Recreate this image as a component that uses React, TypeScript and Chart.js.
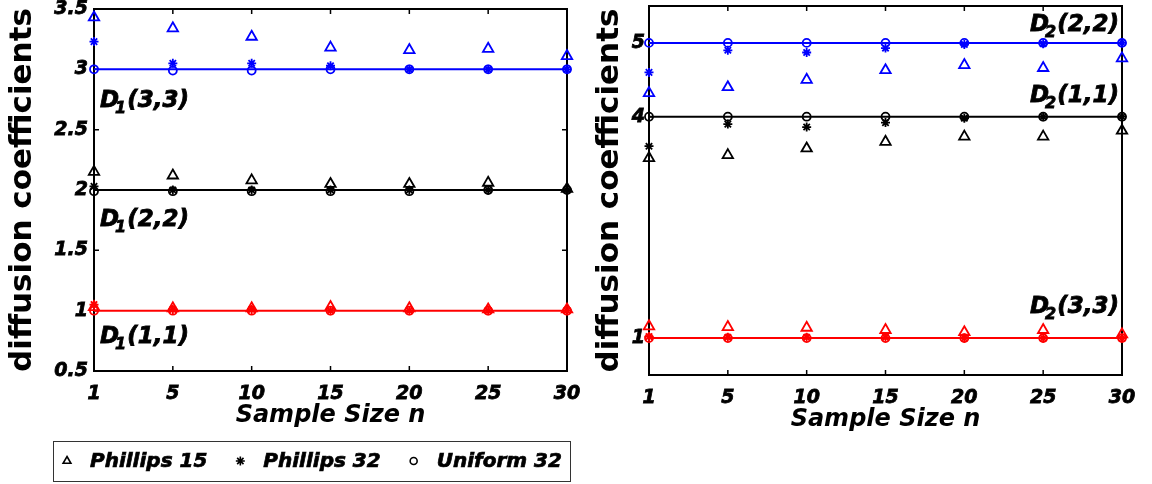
import React, { useEffect, useRef } from 'react';
import { Chart, registerables } from 'chart.js';

Chart.register(...registerables);

// ---------- data ----------
const sampleSizes = ['1', '5', '10', '15', '20', '25', '30'];
const methodNames = ['Phillips 15', 'Phillips 32', 'Uniform 32'];
const d1TickValues = [0.5, 1, 1.5, 2, 2.5, 3, 3.5];
const d2TickValues = [1, 4, 5];

// D1 (left panel)
const d1_33_true = [3, 3, 3, 3, 3, 3, 3];
const d1_33_phillips15 = [3.43, 3.34, 3.27, 3.18, 3.16, 3.17, 3.11];
const d1_33_phillips32 = [3.23, 3.05, 3.05, 3.03, 3.0, 3.0, 3.0];
const d1_33_uniform32 = [3.0, 2.99, 2.99, 3.0, 3.0, 3.0, 3.0];

const d1_22_true = [2, 2, 2, 2, 2, 2, 2];
const d1_22_phillips15 = [2.15, 2.12, 2.08, 2.05, 2.05, 2.06, 2.01];
const d1_22_phillips32 = [2.03, 2.0, 2.0, 2.0, 2.0, 2.0, 2.0];
const d1_22_uniform32 = [1.99, 1.99, 1.99, 1.99, 1.99, 2.0, 2.0];

const d1_11_true = [1, 1, 1, 1, 1, 1, 1];
const d1_11_phillips15 = [1.03, 1.02, 1.02, 1.03, 1.02, 1.01, 1.01];
const d1_11_phillips32 = [1.05, 1.01, 1.01, 1.0, 1.0, 1.0, 1.0];
const d1_11_uniform32 = [1.0, 1.0, 1.0, 1.0, 1.0, 1.0, 1.0];

// D2 (right panel)
const d2_22_true = [5, 5, 5, 5, 5, 5, 5];
const d2_22_phillips15 = [4.32, 4.4, 4.5, 4.63, 4.7, 4.66, 4.79];
const d2_22_phillips32 = [4.6, 4.9, 4.87, 4.93, 4.98, 4.99, 5.0];
const d2_22_uniform32 = [5.0, 5.0, 5.0, 5.0, 5.0, 5.0, 5.0];

const d2_11_true = [4, 4, 4, 4, 4, 4, 4];
const d2_11_phillips15 = [3.44, 3.48, 3.57, 3.66, 3.73, 3.73, 3.81];
const d2_11_phillips32 = [3.6, 3.9, 3.86, 3.92, 3.98, 4.0, 4.0];
const d2_11_uniform32 = [4.0, 4.0, 4.0, 4.0, 4.0, 4.0, 4.0];

const d2_33_true = [1, 1, 1, 1, 1, 1, 1];
const d2_33_phillips15 = [1.16, 1.15, 1.14, 1.11, 1.08, 1.11, 1.05];
const d2_33_phillips32 = [1.02, 1.01, 1.01, 1.01, 1.0, 1.0, 1.0];
const d2_33_uniform32 = [1.0, 1.0, 1.0, 1.0, 1.0, 1.0, 1.0];

// text labels inside the panels
const d1Labels = [
  { sub: '1', args: '(3,3)', xIndex: 0, value: 2.69 },
  { sub: '1', args: '(2,2)', xIndex: 0, value: 1.7 },
  { sub: '1', args: '(1,1)', xIndex: 0, value: 0.73 },
];
const d2Labels = [
  { sub: '2', args: '(2,2)', xIndex: 6, value: 5.16 },
  { sub: '2', args: '(1,1)', xIndex: 6, value: 4.2 },
  { sub: '2', args: '(3,3)', xIndex: 6, value: 1.34 },
];

// ---------- styling ----------
const FONT = '"DejaVu Sans", "Liberation Sans", Arial, sans-serif';
const BLUE = '#0000ff';
const BLACK = '#000000';
const RED = '#ff0000';
const CANVAS_TOP = -20;
const markerStyles = ['triangle', 'star', 'circle'];
const markerRadius = [6, 4.5, 4];

type Group = { color: string; truth: number[]; series: number[][] };

function buildDatasets(groups: Group[]) {
  const ds: any[] = [];
  groups.forEach((g) => {
    g.series.forEach((values, m) => {
      ds.push({
        label: methodNames[m],
        data: values,
        showLine: false,
        pointStyle: markerStyles[m],
        pointRadius: markerRadius[m],
        pointBorderWidth: 1.8,
        pointBorderColor: g.color,
        pointBackgroundColor: 'rgba(0,0,0,0)',
        borderColor: g.color,
        clip: false,
        order: 3 - m,
      });
    });
    ds.push({
      label: 'true',
      data: g.truth,
      showLine: true,
      borderColor: g.color,
      borderWidth: 2,
      pointRadius: 0,
      clip: false,
      order: 10,
    });
  });
  return ds;
}

const boxPlugin = {
  id: 'matlabBox',
  beforeDatasetsDraw(chart: any) {
    const { ctx, chartArea: a, scales } = chart;
    const x = scales.x;
    const y = scales.y;
    ctx.save();
    ctx.strokeStyle = '#000';
    ctx.lineWidth = 1.5;
    const tl = 5;
    ctx.beginPath();
    x.ticks.forEach((_t: any, i: number) => {
      const px = x.getPixelForTick(i);
      ctx.moveTo(px, a.bottom);
      ctx.lineTo(px, a.bottom - tl);
      ctx.moveTo(px, a.top);
      ctx.lineTo(px, a.top + tl);
    });
    y.ticks.forEach((t: any) => {
      const py = y.getPixelForValue(t.value);
      ctx.moveTo(a.left, py);
      ctx.lineTo(a.left + tl, py);
      ctx.moveTo(a.right, py);
      ctx.lineTo(a.right - tl, py);
    });
    ctx.stroke();
    ctx.lineWidth = 2;
    ctx.strokeRect(a.left, a.top, a.right - a.left, a.bottom - a.top);
    ctx.restore();
  },
};

function heavyText(ctx: CanvasRenderingContext2D, s: string, x: number, y: number) {
  ctx.fillText(s, x, y);
  ctx.strokeText(s, x, y);
}

const labelPlugin = {
  id: 'panelLabels',
  afterDatasetsDraw(chart: any, _args: any, opts: any) {
    const labels = opts.labels || [];
    const { ctx, scales } = chart;
    ctx.save();
    ctx.fillStyle = '#000';
    ctx.strokeStyle = '#000';
    ctx.lineWidth = 0.8;
    ctx.textBaseline = 'alphabetic';
    labels.forEach((l: any) => {
      const main = `italic bold 23px ${FONT}`;
      const subF = `italic bold 16px ${FONT}`;
      ctx.font = main;
      const wD = ctx.measureText('D').width;
      const wArgs = ctx.measureText(l.args).width;
      ctx.font = subF;
      const wSub = ctx.measureText(l.sub).width;
      const total = wD + wSub - 3 + wArgs;
      const ax = scales.x.getPixelForValue(l.xIndex);
      const ay = scales.y.getPixelForValue(l.value);
      const x0 = opts.align === 'right' ? ax - 3 - total : ax + 6;
      ctx.font = main;
      heavyText(ctx, 'D', x0, ay);
      ctx.font = subF;
      heavyText(ctx, l.sub, x0 + wD - 4, ay + 6);
      ctx.font = main;
      heavyText(ctx, l.args, x0 + wD + wSub - 3, ay);
    });
    ctx.restore();
  },
};

function drawMarker(ctx: CanvasRenderingContext2D, style: string, x: number, y: number, r: number) {
  ctx.beginPath();
  if (style === 'triangle') {
    let rad = 0;
    ctx.moveTo(x + Math.sin(rad) * r, y - Math.cos(rad) * r);
    rad += (2 * Math.PI) / 3;
    ctx.lineTo(x + Math.sin(rad) * r, y - Math.cos(rad) * r);
    rad += (2 * Math.PI) / 3;
    ctx.lineTo(x + Math.sin(rad) * r, y - Math.cos(rad) * r);
    ctx.closePath();
  } else if (style === 'star') {
    for (let k = 0; k < 4; k++) {
      const ang = (k * Math.PI) / 4;
      ctx.moveTo(x - Math.cos(ang) * r, y - Math.sin(ang) * r);
      ctx.lineTo(x + Math.cos(ang) * r, y + Math.sin(ang) * r);
    }
  } else {
    ctx.arc(x, y, r, 0, Math.PI * 2);
  }
  ctx.stroke();
}

const legendPlugin = {
  id: 'boxLegend',
  afterDraw(chart: any, _args: any, opts: any) {
    if (!opts.show) return;
    const { ctx } = chart;
    const top = 441 - CANVAS_TOP;
    const left = 53;
    const w = 517;
    const h = 40;
    ctx.save();
    ctx.strokeStyle = '#333';
    ctx.lineWidth = 1;
    ctx.strokeRect(left + 0.5, top + 0.5, w, h);
    ctx.font = `italic bold 20px ${FONT}`;
    ctx.textBaseline = 'middle';
    ctx.fillStyle = '#000';
    ctx.strokeStyle = '#000';
    const cy = top + h / 2;
    let x = 67;
    methodNames.forEach((name, m) => {
      const r = [4.5, 4.5, 3.5][m];
      ctx.lineWidth = 1.6;
      drawMarker(ctx, markerStyles[m], x, cy, r);
      const tx = x + 23;
      ctx.lineWidth = 0.7;
      heavyText(ctx, name, tx, cy + 1);
      x = tx + ctx.measureText(name).width + 33;
    });
    ctx.restore();
  },
};

function makeConfig(opts: {
  groups: Group[];
  min: number;
  max: number;
  tickValues: number[];
  yWidth: number;
  yTitlePad: number;
  yTickPad: number;
  padding: any;
  labels: any[];
  labelAlign: string;
  legend: boolean;
}) {
  return {
    type: 'line',
    data: { labels: sampleSizes, datasets: buildDatasets(opts.groups) },
    plugins: [boxPlugin, labelPlugin, legendPlugin],
    options: {
      animation: false,
      responsive: false,
      layout: { padding: opts.padding },
      plugins: {
        legend: { display: false },
        tooltip: { enabled: false },
        panelLabels: { labels: opts.labels, align: opts.labelAlign },
        boxLegend: { show: opts.legend },
      },
      scales: {
        x: {
          type: 'category',
          offset: false,
          grid: { display: false, drawTicks: false },
          border: { display: false },
          ticks: {
            color: '#000',
            padding: 12,
            maxRotation: 0,
            autoSkip: false,
            textStrokeColor: '#000',
            textStrokeWidth: 0.8,
            font: { family: FONT, size: 19, weight: 'bold', style: 'italic' },
          },
          title: {
            display: true,
            text: 'Sample Size n',
            color: '#000',
            padding: { top: 0, bottom: 5 },
            font: { family: FONT, size: 24, weight: 'bold', style: 'italic' },
          },
          afterFit: (s: any) => {
            s.height = 64;
          },
        },
        y: {
          type: 'linear',
          min: opts.min,
          max: opts.max,
          grid: { display: false, drawTicks: false },
          border: { display: false },
          afterBuildTicks: (s: any) => {
            s.ticks = opts.tickValues.map((v) => ({ value: v }));
          },
          ticks: {
            color: '#000',
            padding: opts.yTickPad,
            textStrokeColor: '#000',
            textStrokeWidth: 0.8,
            callback: (v: any) => String(v),
            font: { family: FONT, size: 19, weight: 'bold', style: 'italic' },
          },
          title: {
            display: true,
            text: 'diffusion coefficients',
            color: '#000',
            padding: { top: opts.yTitlePad, bottom: 0 },
            font: { family: FONT, size: 31, weight: 'bold' },
          },
          afterFit: (s: any) => {
            s.width = opts.yWidth;
          },
        },
      },
    },
  };
}

function Panel(props: { left: number; width: number; config: any }) {
  const ref = useRef<HTMLCanvasElement | null>(null);
  useEffect(() => {
    if (!ref.current) return;
    const chart = new Chart(ref.current, props.config);
    return () => chart.destroy();
  }, []);
  return (
    <canvas
      ref={ref}
      width={props.width}
      height={484 - CANVAS_TOP}
      style={{
        position: 'absolute',
        left: props.left,
        top: CANVAS_TOP,
        width: props.width,
        height: 484 - CANVAS_TOP,
      }}
    />
  );
}

export default function App() {
  const leftConfig = makeConfig({
    groups: [
      { color: BLUE, truth: d1_33_true, series: [d1_33_phillips15, d1_33_phillips32, d1_33_uniform32] },
      { color: BLACK, truth: d1_22_true, series: [d1_22_phillips15, d1_22_phillips32, d1_22_uniform32] },
      { color: RED, truth: d1_11_true, series: [d1_11_phillips15, d1_11_phillips32, d1_11_uniform32] },
    ],
    min: 0.5,
    max: 3.5,
    tickValues: d1TickValues,
    yWidth: 94,
    yTitlePad: 4,
    yTickPad: 6,
    padding: { left: 0, top: 9 - CANVAS_TOP, right: 600 - 567, bottom: 484 - 371 - 64 },
    labels: d1Labels,
    labelAlign: 'left',
    legend: true,
  });
  const rightConfig = makeConfig({
    groups: [
      { color: BLUE, truth: d2_22_true, series: [d2_22_phillips15, d2_22_phillips32, d2_22_uniform32] },
      { color: BLACK, truth: d2_11_true, series: [d2_11_phillips15, d2_11_phillips32, d2_11_uniform32] },
      { color: RED, truth: d2_33_true, series: [d2_33_phillips15, d2_33_phillips32, d2_33_uniform32] },
    ],
    min: 0.5,
    max: 5.5,
    tickValues: d2TickValues,
    yWidth: 69,
    yTitlePad: 11,
    yTickPad: 4,
    padding: { left: 0, top: 6 - CANVAS_TOP, right: 1152 - 1122, bottom: 484 - 375 - 64 },
    labels: d2Labels,
    labelAlign: 'right',
    legend: false,
  });
  return (
    <div
      style={{
        position: 'fixed',
        left: 0,
        top: 0,
        width: 1152,
        height: 484,
        overflow: 'hidden',
        background: '#fff',
      }}
    >
      <Panel left={0} width={600} config={leftConfig} />
      <Panel left={580} width={572} config={rightConfig} />
    </div>
  );
}
